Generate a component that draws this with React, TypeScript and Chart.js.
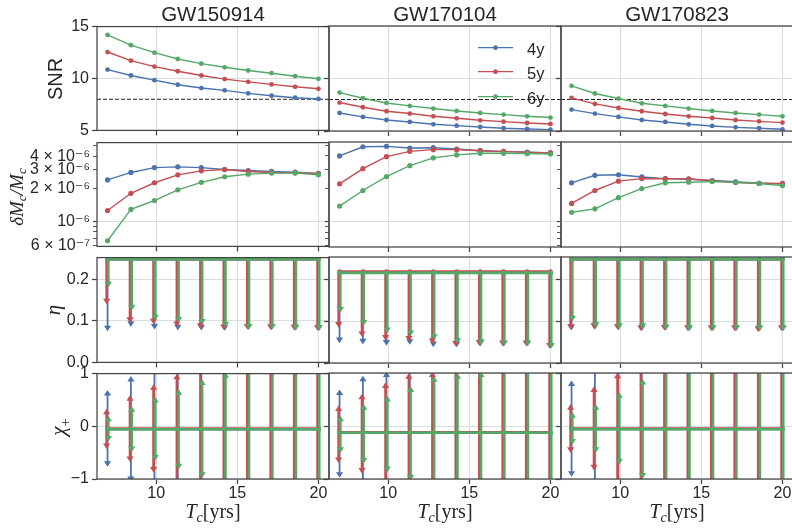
import React, { useEffect, useRef } from 'react';
import { Chart, registerables } from 'chart.js';

Chart.register(...registerables);

// ------------------------------------------------------------------ data
const TC = [7, 8.44, 9.89, 11.33, 12.78, 14.22, 15.67, 17.11, 18.56, 20];
const EVENTS = ['GW150914', 'GW170104', 'GW170823'];
const SERIES = ['4y', '5y', '6y'];
const SNR_THRESHOLD = 8;

// row 1: SNR
const SNR_GW150914_4Y = [10.86, 10.29, 9.84, 9.40, 9.08, 8.86, 8.57, 8.34, 8.15, 8.03];
const SNR_GW150914_5Y = [12.55, 11.72, 11.15, 10.70, 10.29, 9.94, 9.68, 9.43, 9.20, 9.01];
const SNR_GW150914_6Y = [14.2, 13.21, 12.49, 11.88, 11.43, 11.08, 10.77, 10.51, 10.22, 9.97];
const SNR_GW170104_4Y = [6.72, 6.34, 6.05, 5.86, 5.64, 5.51, 5.38, 5.26, 5.19, 5.13];
const SNR_GW170104_5Y = [7.71, 7.26, 6.88, 6.66, 6.40, 6.21, 6.02, 5.89, 5.76, 5.67];
const SNR_GW170104_6Y = [8.66, 8.12, 7.67, 7.39, 7.14, 6.91, 6.72, 6.56, 6.40, 6.28];
const SNR_GW170823_4Y = [7.04, 6.66, 6.34, 6.05, 5.86, 5.64, 5.48, 5.35, 5.26, 5.16];
const SNR_GW170823_5Y = [8.15, 7.58, 7.19, 6.88, 6.62, 6.40, 6.24, 6.05, 5.92, 5.80];
const SNR_GW170823_6Y = [9.30, 8.57, 8.09, 7.64, 7.39, 7.14, 6.91, 6.72, 6.56, 6.40];

// row 2: dMc/Mc
const DM_GW150914_4Y = [2.42e-6, 2.84e-6, 3.15e-6, 3.20e-6, 3.15e-6, 3.02e-6, 2.96e-6, 2.90e-6, 2.86e-6, 2.78e-6];
const DM_GW150914_5Y = [1.26e-6, 1.82e-6, 2.28e-6, 2.70e-6, 2.94e-6, 3.02e-6, 2.90e-6, 2.84e-6, 2.82e-6, 2.76e-6];
const DM_GW150914_6Y = [6.61e-7, 1.29e-6, 1.56e-6, 1.96e-6, 2.30e-6, 2.59e-6, 2.74e-6, 2.80e-6, 2.80e-6, 2.70e-6];
const DM_GW170104_4Y = [4.0e-6, 4.86e-6, 4.9e-6, 4.73e-6, 4.76e-6, 4.63e-6, 4.47e-6, 4.38e-6, 4.35e-6, 4.26e-6];
const DM_GW170104_5Y = [2.22e-6, 3.06e-6, 3.94e-6, 4.41e-6, 4.57e-6, 4.57e-6, 4.47e-6, 4.41e-6, 4.31e-6, 4.29e-6];
const DM_GW170104_6Y = [1.39e-6, 1.93e-6, 2.59e-6, 3.26e-6, 3.84e-6, 4.09e-6, 4.23e-6, 4.23e-6, 4.20e-6, 4.17e-6];
const DM_GW170823_4Y = [2.27e-6, 2.66e-6, 2.69e-6, 2.57e-6, 2.48e-6, 2.45e-6, 2.38e-6, 2.32e-6, 2.25e-6, 2.22e-6];
const DM_GW170823_5Y = [1.47e-6, 1.93e-6, 2.35e-6, 2.48e-6, 2.47e-6, 2.47e-6, 2.37e-6, 2.28e-6, 2.25e-6, 2.24e-6];
const DM_GW170823_6Y = [1.22e-6, 1.31e-6, 1.66e-6, 2.01e-6, 2.27e-6, 2.30e-6, 2.33e-6, 2.30e-6, 2.24e-6, 2.14e-6];

// row 3: eta (central value per series, lower bounds)
const ETA_CENTER_GW150914 = [0.249, 0.249, 0.249];
const ETA_CENTER_GW170104 = [0.216, 0.218, 0.215];
const ETA_CENTER_GW170823 = [0.248, 0.248, 0.248];
const ETA_LO_GW150914_4Y = [0.084, 0.0945, 0.088, 0.086, 0.0855, 0.085, 0.087, 0.087, 0.086, 0.085];
const ETA_LO_GW150914_5Y = [0.149, 0.104, 0.1007, 0.094, 0.090, 0.087, 0.088, 0.087, 0.086, 0.085];
const ETA_LO_GW150914_6Y = [0.19, 0.134, 0.110, 0.105, 0.100, 0.093, 0.088, 0.088, 0.086, 0.085];
const ETA_LO_GW170104_4Y = [0.056, 0.053, 0.050, 0.052, 0.0465, 0.046, 0.048, 0.048, 0.048, 0.043];
const ETA_LO_GW170104_5Y = [0.093, 0.0705, 0.062, 0.060, 0.0545, 0.048, 0.050, 0.049, 0.049, 0.043];
const ETA_LO_GW170104_6Y = [0.129, 0.098, 0.080, 0.073, 0.064, 0.0545, 0.052, 0.049, 0.049, 0.043];
const ETA_LO_GW170823_4Y = [0.087, 0.088, 0.087, 0.085, 0.086, 0.085, 0.085, 0.085, 0.084, 0.085];
const ETA_LO_GW170823_5Y = [0.088, 0.090, 0.088, 0.085, 0.086, 0.085, 0.085, 0.085, 0.0825, 0.085];
const ETA_LO_GW170823_6Y = [0.108, 0.093, 0.090, 0.090, 0.087, 0.085, 0.085, 0.085, 0.085, 0.085];

// row 4: chi+ (central value per series, lower / upper bounds; |1.2| = beyond the axis)
const CHI_CENTER_GW150914 = [-0.055, -0.045, -0.057];
const CHI_CENTER_GW170104 = [-0.126, -0.118, -0.128];
const CHI_CENTER_GW170823 = [-0.057, -0.05, -0.06];
const CHI_HI_GW150914_4Y = [0.62, 0.887, 1.2, 1.2, 1.2, 1.2, 1.2, 1.2, 1.2, 1.2];
const CHI_LO_GW150914_4Y = [-0.70, -0.99, -1.2, -1.2, -1.2, -1.2, -1.2, -1.2, -1.2, -1.2];
const CHI_HI_GW150914_5Y = [0.264, 0.52, 0.73, 0.93, 1.2, 1.2, 1.2, 1.2, 1.2, 1.2];
const CHI_LO_GW150914_5Y = [-0.364, -0.61, -0.81, -1.2, -1.2, -1.2, -1.2, -1.2, -1.2, -1.2];
const CHI_HI_GW150914_6Y = [0.132, 0.315, 0.49, 0.635, 0.82, 0.96, 1.2, 1.2, 1.2, 1.2];
const CHI_LO_GW150914_6Y = [-0.22, -0.42, -0.58, -0.75, -0.91, -1.2, -1.2, -1.2, -1.2, -1.2];
const CHI_HI_GW170104_4Y = [0.62, 0.88, 0.96, 1.2, 1.2, 1.2, 1.2, 1.2, 1.2, 1.2];
const CHI_LO_GW170104_4Y = [-0.91, -1.2, -1.2, -1.2, -1.2, -1.2, -1.2, -1.2, -1.2, -1.2];
const CHI_HI_GW170104_5Y = [0.32, 0.54, 0.755, 0.93, 0.96, 1.2, 1.2, 1.2, 1.2, 1.2];
const CHI_LO_GW170104_5Y = [-0.63, -0.83, -1.2, -1.2, -1.2, -1.2, -1.2, -1.2, -1.2, -1.2];
const CHI_HI_GW170104_6Y = [0.126, 0.345, 0.50, 0.68, 0.87, 0.93, 0.96, 1.2, 1.2, 1.2];
const CHI_LO_GW170104_6Y = [-0.44, -0.64, -0.80, -0.96, -1.2, -1.2, -1.2, -1.2, -1.2, -1.2];
const CHI_HI_GW170823_4Y = [0.79, 1.2, 1.2, 1.2, 1.2, 1.2, 1.2, 1.2, 1.2, 1.2];
const CHI_LO_GW170823_4Y = [-0.89, -1.2, -1.2, -1.2, -1.2, -1.2, -1.2, -1.2, -1.2, -1.2];
const CHI_HI_GW170823_5Y = [0.345, 0.68, 0.94, 1.2, 1.2, 1.2, 1.2, 1.2, 1.2, 1.2];
const CHI_LO_GW170823_5Y = [-0.44, -0.77, -1.2, -1.2, -1.2, -1.2, -1.2, -1.2, -1.2, -1.2];
const CHI_HI_GW170823_6Y = [0.195, 0.345, 0.57, 0.82, 1.2, 1.2, 1.2, 1.2, 1.2, 1.2];
const CHI_LO_GW170823_6Y = [-0.283, -0.44, -0.66, -0.925, -1.2, -1.2, -1.2, -1.2, -1.2, -1.2];

// axes
const X_RANGE = [6.35, 20.65];
const X_TICKS = [10, 15, 20];
const X_TICK_LABELS = ['10', '15', '20'];
const SNR_RANGE = [5, 15];
const SNR_TICKS = [5, 10, 15];
const SNR_TICK_LABELS = ['5', '10', '15'];
const DM_RANGE = [5.86e-7, 5.37e-6];
const DM_TICKS = [6e-7, 7e-7, 8e-7, 9e-7, 1e-6, 2e-6, 3e-6, 4e-6, 5e-6];
const DM_TICK_LABELS = ['6 × 10⁻⁷', '', '', '', '10⁻⁶', '2 × 10⁻⁶', '3 × 10⁻⁶', '4 × 10⁻⁶', ''];
const DM_MAJOR = 1e-6;
const ETA_RANGE = [0, 0.253];
const ETA_TICKS = [0, 0.1, 0.2];
const ETA_TICK_LABELS = ['0.0', '0.1', '0.2'];
const CHI_RANGE = [-1, 1];
const CHI_TICKS = [-1, 0, 1];
const CHI_TICK_LABELS = ['−1', '0', '1'];

// tables built from the arrays
const SNR_DATA = [
  [SNR_GW150914_4Y, SNR_GW150914_5Y, SNR_GW150914_6Y],
  [SNR_GW170104_4Y, SNR_GW170104_5Y, SNR_GW170104_6Y],
  [SNR_GW170823_4Y, SNR_GW170823_5Y, SNR_GW170823_6Y],
];
const DM_DATA = [
  [DM_GW150914_4Y, DM_GW150914_5Y, DM_GW150914_6Y],
  [DM_GW170104_4Y, DM_GW170104_5Y, DM_GW170104_6Y],
  [DM_GW170823_4Y, DM_GW170823_5Y, DM_GW170823_6Y],
];
const ETA_CENTER = [ETA_CENTER_GW150914, ETA_CENTER_GW170104, ETA_CENTER_GW170823];
const ETA_LO = [
  [ETA_LO_GW150914_4Y, ETA_LO_GW150914_5Y, ETA_LO_GW150914_6Y],
  [ETA_LO_GW170104_4Y, ETA_LO_GW170104_5Y, ETA_LO_GW170104_6Y],
  [ETA_LO_GW170823_4Y, ETA_LO_GW170823_5Y, ETA_LO_GW170823_6Y],
];
const CHI_CENTER = [CHI_CENTER_GW150914, CHI_CENTER_GW170104, CHI_CENTER_GW170823];
const CHI_LO = [
  [CHI_LO_GW150914_4Y, CHI_LO_GW150914_5Y, CHI_LO_GW150914_6Y],
  [CHI_LO_GW170104_4Y, CHI_LO_GW170104_5Y, CHI_LO_GW170104_6Y],
  [CHI_LO_GW170823_4Y, CHI_LO_GW170823_5Y, CHI_LO_GW170823_6Y],
];
const CHI_HI = [
  [CHI_HI_GW150914_4Y, CHI_HI_GW150914_5Y, CHI_HI_GW150914_6Y],
  [CHI_HI_GW170104_4Y, CHI_HI_GW170104_5Y, CHI_HI_GW170104_6Y],
  [CHI_HI_GW170823_4Y, CHI_HI_GW170823_5Y, CHI_HI_GW170823_6Y],
];

// ------------------------------------------------------------------ style / layout
const COLORS = ['#4C72B0', '#C44E52', '#55A868'];
const TEXT = '#262626';
const EDGE = '#444444';
const GRID = '#dcdcdc';
const SANS = '"Liberation Sans", Arial, "DejaVu Sans", sans-serif';
const SERIF = '"Liberation Serif", "Times New Roman", "DejaVu Serif", serif';

const COL_LEFT = [97, 329, 561];
const COL_W = 232;
const ROW_TOP = [26, 142, 257, 373];
const ROW_H = [105, 105, 106, 106];
const ERR_STYLE = [
  { width: 1.8, shift: 0 },
  { width: 2.6, shift: -0.9 },
  { width: 2.6, shift: 0.8 },
];
const LEGEND_POS = { lineStart: 149, lineEnd: 184, text: 198, rows: [21.7, 45.7, 70.7] };

type Pad = { l: number; r: number; t: number; b: number };

function caret(ctx: CanvasRenderingContext2D, x: number, y: number, dir: number) {
  const w = 3.6;
  const h = 5.6;
  ctx.beginPath();
  ctx.moveTo(x - w, y - dir * h * 0.35);
  ctx.lineTo(x + w, y - dir * h * 0.35);
  ctx.lineTo(x, y + dir * h * 0.65);
  ctx.closePath();
  ctx.fill();
}

const errorBarPlugin = {
  id: 'errorBars',
  afterDatasetDraw(chart: any, args: any) {
    const ds: any = chart.data.datasets[args.index];
    if (!ds.errLo) return;
    const { ctx, chartArea: a } = chart;
    const xs = chart.scales.x;
    const ys = chart.scales.y;
    ctx.save();
    ctx.beginPath();
    ctx.rect(a.left, a.top, a.right - a.left, a.bottom - a.top);
    ctx.clip();
    ctx.strokeStyle = ds.borderColor;
    ctx.fillStyle = ds.borderColor;
    ctx.lineWidth = ds.errWidth;
    ds.data.forEach((p: any, i: number) => {
      const px = xs.getPixelForValue(p.x) + ds.errShift;
      const yLo = ys.getPixelForValue(ds.errLo[i]);
      const yHi = ys.getPixelForValue(ds.errHi[i]);
      ctx.beginPath();
      ctx.moveTo(px, yHi);
      ctx.lineTo(px, yLo);
      ctx.stroke();
      caret(ctx, px, yLo, 1);
      if (ds.capHi) caret(ctx, px, yHi, -1);
    });
    ctx.restore();
  },
};

const framePlugin = {
  id: 'frame',
  afterDraw(chart: any) {
    const { ctx, chartArea: a } = chart;
    ctx.save();
    ctx.strokeStyle = EDGE;
    ctx.lineWidth = 1.25;
    ctx.strokeRect(a.left, a.top, a.right - a.left, a.bottom - a.top);
    ctx.restore();
  },
};

const thresholdPlugin = {
  id: 'threshold',
  beforeDatasetsDraw(chart: any) {
    const { ctx, chartArea: a } = chart;
    const y = chart.scales.y.getPixelForValue(SNR_THRESHOLD);
    ctx.save();
    ctx.strokeStyle = '#222';
    ctx.lineWidth = 1.2;
    ctx.setLineDash([4, 2]);
    ctx.beginPath();
    ctx.moveTo(a.left, y);
    ctx.lineTo(a.right, y);
    ctx.stroke();
    ctx.restore();
  },
};

const seriesLegendPlugin = {
  id: 'seriesLegend',
  afterDraw(chart: any) {
    const { ctx, chartArea: a } = chart;
    ctx.save();
    SERIES.forEach((name, k) => {
      const y = a.top + LEGEND_POS.rows[k];
      const x0 = a.left + LEGEND_POS.lineStart;
      const x1 = a.left + LEGEND_POS.lineEnd;
      ctx.strokeStyle = COLORS[k];
      ctx.fillStyle = COLORS[k];
      ctx.lineWidth = 1.3;
      ctx.beginPath();
      ctx.moveTo(x0, y);
      ctx.lineTo(x1, y);
      ctx.stroke();
      ctx.beginPath();
      ctx.arc((x0 + x1) / 2, y, 2.4, 0, Math.PI * 2);
      ctx.fill();
      ctx.fillStyle = TEXT;
      ctx.font = `16.5px ${SANS}`;
      ctx.textBaseline = 'alphabetic';
      ctx.textAlign = 'left';
      ctx.fillText(name, a.left + LEGEND_POS.text, y + 7.3);
    });
    ctx.restore();
  },
};

function buildConfig(row: number, col: number, pad: Pad) {
  const datasets = SERIES.map((name, k) => {
    const color = COLORS[k];
    const base: any = {
      label: name,
      borderColor: color,
      backgroundColor: color,
      pointBackgroundColor: color,
      pointBorderColor: color,
      pointBorderWidth: 0,
      pointHoverRadius: 0,
      order: SERIES.length - k,
      tension: 0,
    };
    if (row === 0 || row === 1) {
      const ys = row === 0 ? SNR_DATA[col][k] : DM_DATA[col][k];
      return {
        ...base,
        data: TC.map((x, i) => ({ x, y: ys[i] })),
        borderWidth: 1.4,
        pointRadius: row === 0 ? 2.4 : 2.6,
      };
    }
    const center = row === 2 ? ETA_CENTER[col][k] : CHI_CENTER[col][k];
    const centers = TC.map(() => center);
    return {
      ...base,
      data: TC.map((x, i) => ({ x, y: centers[i] })),
      borderWidth: 2.6,
      pointRadius: 2.3,
      errLo: row === 2 ? ETA_LO[col][k] : CHI_LO[col][k],
      errHi: row === 2 ? centers : CHI_HI[col][k],
      capHi: row === 3,
      errWidth: ERR_STYLE[k].width,
      errShift: ERR_STYLE[k].shift,
    };
  });

  const yRange = [SNR_RANGE, DM_RANGE, ETA_RANGE, CHI_RANGE][row];
  const yTicks = [SNR_TICKS, DM_TICKS, ETA_TICKS, CHI_TICKS][row];
  const yLabels = [SNR_TICK_LABELS, DM_TICK_LABELS, ETA_TICK_LABELS, CHI_TICK_LABELS][row];
  const isLog = row === 1;
  const tickFont = { family: SANS, size: 16 };

  const plugins: any[] = [errorBarPlugin, framePlugin];
  if (row === 0) plugins.push(thresholdPlugin);
  if (row === 0 && col === 1) plugins.push(seriesLegendPlugin);

  return {
    type: 'line',
    data: { datasets },
    plugins,
    options: {
      responsive: false,
      maintainAspectRatio: false,
      animation: false,
      devicePixelRatio: 1,
      events: [],
      layout: { padding: { top: pad.t, right: pad.r, bottom: 0, left: 0 } },
      plugins: {
        legend: { display: false },
        tooltip: { enabled: false },
        title: { display: false },
      },
      scales: {
        x: {
          type: 'linear',
          min: X_RANGE[0],
          max: X_RANGE[1],
          afterBuildTicks: (s: any) => {
            s.ticks = X_TICKS.map((v) => ({ value: v }));
          },
          afterFit: (s: any) => {
            s.height = pad.b;
          },
          ticks: {
            display: row === 3,
            font: tickFont,
            color: TEXT,
            padding: 0,
            maxRotation: 0,
            autoSkip: false,
            callback: (_v: any, i: number) => X_TICK_LABELS[i],
          },
          grid: {
            color: GRID,
            lineWidth: 1,
            drawTicks: true,
            tickLength: 5,
            tickColor: EDGE,
            tickWidth: 1.25,
          },
          border: { display: false },
        },
        y: {
          type: isLog ? 'logarithmic' : 'linear',
          min: yRange[0],
          max: yRange[1],
          afterBuildTicks: (s: any) => {
            s.ticks = yTicks.map((v) => ({ value: v }));
          },
          afterFit: (s: any) => {
            s.width = pad.l;
          },
          ticks: {
            display: col === 0,
            font: tickFont,
            color: TEXT,
            padding: 3,
            autoSkip: false,
            callback: (_v: any, i: number) => yLabels[i],
          },
          grid: {
            color: isLog
              ? (c: any) => (c.tick && c.tick.value === DM_MAJOR ? GRID : 'rgba(0,0,0,0)')
              : GRID,
            lineWidth: 1,
            drawTicks: true,
            tickLength: isLog ? 4 : 5,
            tickColor: EDGE,
            tickWidth: isLog
              ? (c: any) => (c.tick && c.tick.value === DM_MAJOR ? 1.25 : 0.9)
              : 1.25,
          },
          border: { display: false },
        },
      },
    },
  };
}

function Panel({ row, col }: { row: number; col: number }) {
  const ref = useRef<HTMLCanvasElement | null>(null);
  const pad: Pad = { l: col === 0 ? 97 : 12, r: 10, t: 12, b: row === 3 ? 50 : 12 };
  const w = pad.l + COL_W + pad.r;
  const h = pad.t + ROW_H[row] + pad.b;
  useEffect(() => {
    if (!ref.current) return;
    const chart = new Chart(ref.current, buildConfig(row, col, pad) as any);
    return () => chart.destroy();
  }, [row, col]);
  return (
    <canvas
      ref={ref}
      width={w}
      height={h}
      style={{ position: 'absolute', left: COL_LEFT[col] - pad.l, top: ROW_TOP[row] - pad.t, width: w, height: h }}
    />
  );
}

function Label({ cx, cy, rotate, style, children }: any) {
  return (
    <div
      style={{
        position: 'absolute',
        left: cx,
        top: cy,
        transform: `translate(-50%, -50%)${rotate ? ' rotate(-90deg)' : ''}`,
        whiteSpace: 'nowrap',
        lineHeight: 1,
        color: TEXT,
        ...style,
      }}
    >
      {children}
    </div>
  );
}

const SUB: React.CSSProperties = { fontSize: '0.7em', verticalAlign: '-0.28em' };

export default function App() {
  const rows = [0, 1, 2, 3];
  const cols = [0, 1, 2];
  return (
    <div
      style={{
        position: 'absolute',
        left: 0,
        top: 0,
        width: 792,
        height: 529,
        overflow: 'hidden',
        background: '#ffffff',
      }}
    >
      {rows.map((r) => cols.map((c) => <Panel key={`${r}-${c}`} row={r} col={c} />))}
      {EVENTS.map((ev, c) => (
        <Label key={ev} cx={COL_LEFT[c] + COL_W / 2} cy={14} style={{ font: `20.5px ${SANS}` }}>
          {ev}
        </Label>
      ))}
      <Label cx={55} cy={79} rotate style={{ font: `20px ${SANS}` }}>
        SNR
      </Label>
      <Label cx={18} cy={197} rotate style={{ font: `italic 19px ${SERIF}` }}>
        δM<span style={SUB}>c</span>/M<span style={SUB}>c</span>
      </Label>
      <Label cx={53} cy={310} rotate style={{ font: `italic 21px ${SERIF}` }}>
        η
      </Label>
      <Label cx={60} cy={427} rotate style={{ font: `italic 21px ${SERIF}` }}>
        χ<span style={{ ...SUB, fontStyle: 'normal' }}>+</span>
      </Label>
      {cols.map((c) => (
        <Label key={`xl-${c}`} cx={COL_LEFT[c] + COL_W / 2} cy={513} style={{ font: `20px ${SERIF}` }}>
          <i>T</i>
          <span style={{ ...SUB, fontStyle: 'italic' }}>c</span>[yrs]
        </Label>
      ))}
    </div>
  );
}
